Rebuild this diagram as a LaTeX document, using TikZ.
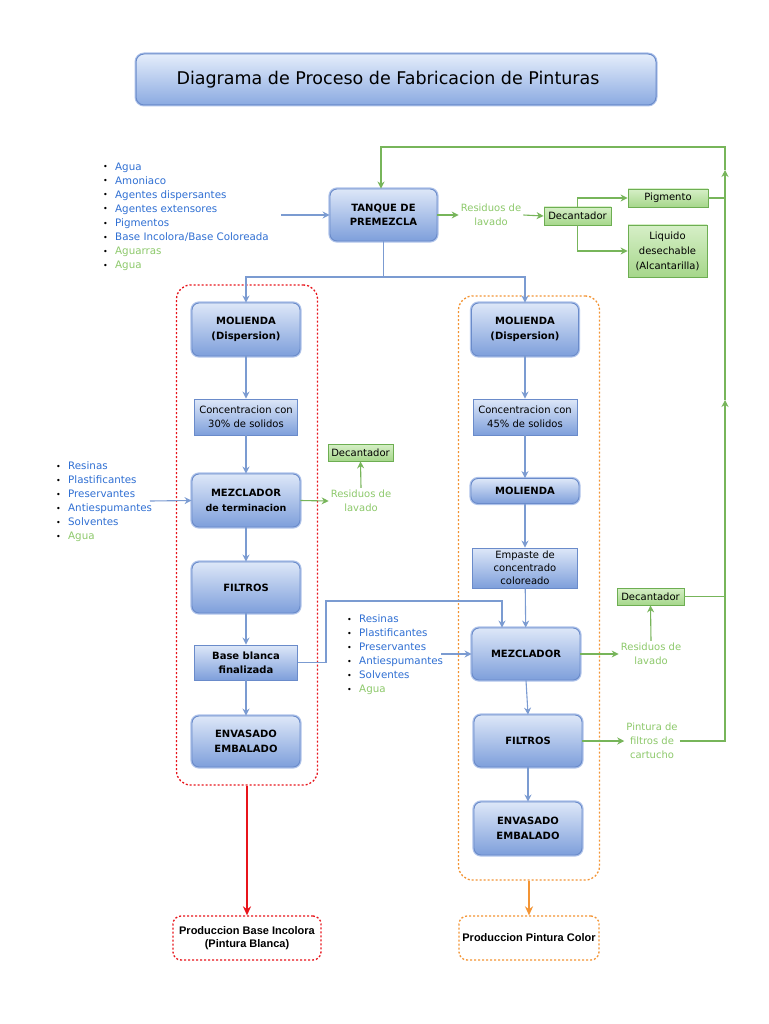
\documentclass[tikz,border=0pt]{standalone}
\usepackage{fontspec}
\setmainfont{DejaVu Sans}
\newfontfamily\arialfont{Liberation Sans}
\usetikzlibrary{arrows.meta}
\definecolor{boxtop}{HTML}{DDE7F8}
\definecolor{boxbot}{HTML}{7E9FDB}
\definecolor{boxedge}{HTML}{6A8BCA}
\definecolor{boxglow}{HTML}{AFC3EA}
\definecolor{titletop}{HTML}{E4EDFB}
\definecolor{titlebot}{HTML}{8BAAE1}
\definecolor{gtop}{HTML}{D6EFC7}
\definecolor{gbot}{HTML}{A6D78B}
\definecolor{gedge}{HTML}{6DAE52}
\definecolor{gline}{HTML}{77B55A}
\definecolor{gtxt}{HTML}{8DC96B}
\definecolor{bline}{HTML}{7B9BD1}
\definecolor{lblue}{HTML}{2F6FD3}
\definecolor{redd}{HTML}{E8141B}
\definecolor{orng}{HTML}{F39434}
\newcommand{\bul}{{\color{black}\makebox[12pt][l]{\fontsize{8}{8}\selectfont\raisebox{0.5pt}{\textbullet}}}}
\begin{document}
\begin{tikzpicture}[x=1pt,y=-1pt,
  proc/.style={rounded corners=7pt, top color=boxtop, bottom color=boxbot, draw=boxedge, line width=0.9pt,
     preaction={draw=boxglow, line width=3.2pt}, align=center,
     font=\fontsize{10}{14.5}\selectfont\bfseries, inner sep=0pt},
  rectbox/.style={top color=boxtop, bottom color=boxbot, draw=boxedge, line width=0.9pt, align=center,
     font=\fontsize{10}{14}\selectfont, inner sep=0pt},
  gbox/.style={top color=gtop, bottom color=gbot, draw=gedge, line width=0.8pt, align=center,
     font=\fontsize{10}{15}\selectfont, inner sep=0pt},
  gtext/.style={text=gtxt, align=center, font=\fontsize{10}{14}\selectfont, inner sep=2pt},
  item/.style={anchor=base west, inner sep=0pt, font=\fontsize{10.3}{14}\selectfont},
  arr/.style={draw=bline, line width=1.1pt, -{Stealth[length=7pt,width=7pt]}},
  garr/.style={draw=gline, line width=1.1pt, -{Stealth[length=7pt,width=7pt]}},
  gl/.style={draw=gline, line width=1.1pt},
  dotbox/.style={rounded corners=14pt, dash pattern=on 2pt off 2pt, line width=1.3pt, inner sep=0pt},
  prod/.style={rounded corners=8pt, dash pattern=on 2pt off 2pt, line width=1.3pt, align=center,
     font=\arialfont\bfseries\fontsize{11}{13.5}\selectfont, inner sep=0pt, fill=white},
  outarr/.style={line width=1.6pt, -{Stealth[length=9pt,width=8pt]}},
]
\useasboundingbox[fill=white] (0,0) rectangle (768,1024);

% dotted groups
\node[dotbox, draw=redd, minimum width=141pt, minimum height=500pt] (boxL) at (247,535) {};
\node[dotbox, draw=orng, minimum width=141pt, minimum height=584pt] (boxR) at (529,588) {};

% title
\node[rounded corners=8pt, top color=titletop, bottom color=titlebot, draw=boxedge, line width=1pt,
      preaction={draw=boxglow, line width=3pt},
      minimum width=520pt, minimum height=51pt] (title) at (396,79.5) {};
\node[font=\fontsize{17.5}{20}\selectfont, inner sep=0pt] (titletext) at (388,79.5)
      {Diagrama de Proceso de Fabricacion de Pinturas};

% top section
\node[proc, minimum width=107pt, minimum height=52pt] (tanque) at (383.5,215) {TANQUE DE\\PREMEZCLA};
\node[gtext] (res1) at (491,215) {Residuos de\\lavado};
\node[gbox, minimum width=67pt, minimum height=18pt] (dec1) at (577.5,216) {Decantador};
\node[gbox, minimum width=80pt, minimum height=18pt] (pig) at (668,198) {Pigmento};
\node[gbox, minimum width=79pt, minimum height=52pt] (liq) at (667.5,251) {Liquido\\desechable\\(Alcantarilla)};

\foreach \t/\c [count=\i from 0] in {Agua/lblue, Amoniaco/lblue, Agentes dispersantes/lblue,
   Agentes extensores/lblue, Pigmentos/lblue, {Base Incolora/Base Coloreada}/lblue, Aguarras/gtxt, Agua/gtxt}
  \node[item, text=\c] (la\i) at (103,{170.5+14*\i}) {\bul\t};
\coordinate (in1) at (281,215);
\draw[arr] (in1) -- (tanque.west);

% left column
\node[proc, minimum width=108pt, minimum height=53pt] (molL) at (246,329.5) {MOLIENDA\\(Dispersion)};
\node[rectbox, minimum width=103pt, minimum height=36pt] (conL) at (246,417) {Concentracion con\\30\% de solidos};
\node[proc, minimum width=108pt, minimum height=53pt] (mezL) at (246,500.5) {MEZCLADOR\\{\fontsize{9.5}{14}\selectfont de terminacion}};
\node[gtext] (res2) at (361,501) {Residuos de\\lavado};
\node[gbox, minimum width=65pt, minimum height=17pt] (dec2) at (360.5,452.5) {Decantador};
\node[proc, minimum width=108pt, minimum height=51pt] (filL) at (246,587.5) {FILTROS};
\node[rectbox, minimum width=103pt, minimum height=35pt, font=\fontsize{10}{14}\selectfont\bfseries] (baseL) at (246,662.5) {Base blanca\\finalizada};
\node[proc, minimum width=108pt, minimum height=51pt] (envL) at (246,741.5) {ENVASADO\\EMBALADO};
\node[prod, draw=redd, minimum width=148pt, minimum height=44pt] (prodL) at (247,938) {Produccion Base Incolora\\(Pintura Blanca)};

\foreach \t/\c [count=\i from 0] in {Resinas/lblue, Plastificantes/lblue, Preservantes/lblue,
   Antiespumantes/lblue, Solventes/lblue, Agua/gtxt}
  \node[item, text=\c] (lb\i) at (56,{469.5+14*\i}) {\bul\t};
\coordinate (in2) at (150,501);
\draw[arr] (in2) -- (mezL.west);

% right column
\node[proc, minimum width=107pt, minimum height=53pt] (molR) at (525,329.5) {MOLIENDA\\(Dispersion)};
\node[rectbox, minimum width=104pt, minimum height=36pt] (conR) at (525,417) {Concentracion con\\45\% de solidos};
\node[proc, minimum width=108pt, minimum height=25pt] (mol2R) at (525,491) {MOLIENDA};
\node[rectbox, minimum width=105pt, minimum height=40pt, font=\fontsize{10}{13}\selectfont] (empR) at (525,568) {Empaste de\\concentrado\\coloreado};
\node[proc, minimum width=108pt, minimum height=52pt] (mezR) at (526,654) {MEZCLADOR};
\node[gtext] (res3) at (651,654) {Residuos de\\lavado};
\node[gbox, minimum width=67pt, minimum height=17pt] (dec3) at (650.5,596.5) {Decantador};
\node[proc, minimum width=108pt, minimum height=52pt] (filR) at (528,741) {FILTROS};
\node[gtext] (pint) at (652,741) {Pintura de\\filtros de\\cartucho};
\node[proc, minimum width=108pt, minimum height=53pt] (envR) at (528,828.5) {ENVASADO\\EMBALADO};
\node[prod, draw=orng, minimum width=140pt, minimum height=44pt] (prodR) at (529,938) {Produccion Pintura Color};

\foreach \t/\c [count=\i from 0] in {Resinas/lblue, Plastificantes/lblue, Preservantes/lblue,
   Antiespumantes/lblue, Solventes/lblue, Agua/gtxt}
  \node[item, text=\c] (lc\i) at (347,{622.5+14*\i}) {\bul\t};
\coordinate (in3) at (441,654);
\draw[arr] (in3) -- (mezR.west);

% blue flow
\coordinate (sp) at (383.5,277);
\draw[arr] (tanque.south) -- (sp) -| (molL.north);
\draw[arr] (sp) -| (molR.north);
\draw[arr] (molL) -- (conL);
\draw[arr] (conL) -- (mezL);
\draw[arr] (mezL) -- (filL);
\draw[arr] (filL) -- (baseL);
\draw[arr] (baseL) -- (envL);
\draw[arr] (molR) -- (conR);
\draw[arr] (conR) -- (mol2R);
\draw[arr] (mol2R) -- (empR);
\draw[arr] (empR) -- (mezR);
\draw[arr] (mezR.south) -- (filR.north);
\draw[arr] (filR) -- (envR);
\coordinate (bj) at (326,662.5);
\coordinate (bk) at (502,601);
\draw[arr] (baseL.east) -- (bj) |- (bk) -- (bk |- mezR.north);

% green flow
\draw[garr] (tanque.east) -- (res1.west);
\draw[garr] (res1.east) -- (dec1.west);
\draw[garr] (dec1.north) |- (pig.west);
\draw[garr] (dec1.south) |- (liq.west);
\draw[garr] (mezL.east) -- (res2.west);
\draw[garr] (res2.north) -- (dec2.south);
\draw[garr] (mezR.east) -- (res3.west);
\draw[garr] (res3.north) -- (dec3.south);
\draw[garr] (filR.east) -- (pint.west);
\coordinate (pintR) at (725,741);
\coordinate (decR) at (725,596.5);
\coordinate (pigR) at (725,198);
\coordinate (m1) at (725,400);
\coordinate (m2) at (725,170);
\coordinate (rtop) at (725,147);
\draw[gl] (pig.east) -- (pigR);
\draw[gl] (dec3.east) -- (decR);
\draw[garr] (pint.east) -- (pintR) -- (m1);
\draw[garr] (m1) -- (m2);
\draw[garr] (m2) -- (rtop) -| ([xshift=-2.5pt]tanque.north);

% outputs
\draw[outarr, draw=redd] (boxL.south) -- (prodL.north);
\draw[outarr, draw=orng] (boxR.south) -- (prodR.north);
\end{tikzpicture}
\end{document}
